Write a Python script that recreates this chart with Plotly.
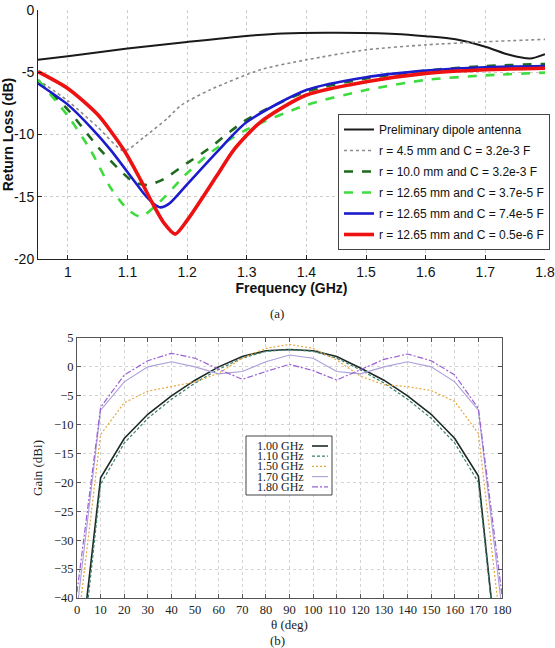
import plotly.graph_objects as go

# ---------------- (a) Return loss vs frequency ----------------
names_a = [
    "Preliminary dipole antenna",
    "r = 4.5 mm and C = 3.2e-3 F",
    "r = 10.0 mm and C = 3.2e-3 F",
    "r = 12.65 mm and C = 3.7e-5 F",
    "r = 12.65 mm and C = 7.4e-5 F",
    "r = 12.65 mm and C = 0.5e-6 F",
]
f_dipole = [0.95, 1.0, 1.1, 1.2, 1.3, 1.36, 1.45, 1.55, 1.6, 1.65, 1.7, 1.74, 1.775, 1.8]
rl_dipole = [-4.0, -3.72, -3.1, -2.57, -2.08, -1.88, -1.83, -1.92, -2.1, -2.35, -2.95, -3.6, -3.9, -3.55]

f_r45 = [0.95, 1.0, 1.05, 1.094, 1.128, 1.167, 1.19, 1.239, 1.323, 1.4, 1.5, 1.6, 1.7, 1.8]
rl_r45 = [-5.6, -7.3, -9.4, -11.3, -10.2, -8.7, -7.65, -6.4, -4.8, -4.0, -3.2, -2.8, -2.55, -2.36]

f_r10 = [0.95, 1.0, 1.055, 1.11, 1.134, 1.16, 1.2, 1.233, 1.3, 1.4, 1.5, 1.6, 1.7, 1.8]
rl_r10 = [-5.7, -8.0, -11.25, -13.8, -14.06, -13.6, -12.3, -11.25, -8.8, -6.55, -5.5, -4.87, -4.5, -4.34]

f_c37 = [0.95, 1.0, 1.038, 1.072, 1.1, 1.122, 1.15, 1.2, 1.245, 1.3, 1.4, 1.5, 1.6, 1.7, 1.8]
rl_c37 = [-5.6, -8.5, -11.25, -14.3, -16.0, -16.6, -15.6, -13.1, -11.25, -9.6, -7.63, -6.43, -5.62, -5.25, -5.03]

f_c74 = [0.95, 1.0, 1.04, 1.072, 1.11, 1.13, 1.145, 1.155, 1.17, 1.2, 1.253, 1.3, 1.4, 1.5, 1.6, 1.7, 1.8]
rl_c74 = [-5.9, -7.6, -9.5, -11.25, -13.65, -14.9, -15.6, -15.85, -15.55, -14.0, -11.25, -9.0, -6.43, -5.4, -4.87, -4.6, -4.5]

f_c05 = [0.95, 1.0, 1.05, 1.094, 1.122, 1.139, 1.161, 1.18, 1.2, 1.25, 1.278, 1.323, 1.4, 1.5, 1.6, 1.7, 1.8]
rl_c05 = [-4.95, -6.3, -8.4, -11.25, -13.65, -15.26, -17.1, -18.0, -16.9, -13.3, -11.25, -9.0, -6.83, -5.76, -5.09, -4.8, -4.68]

x_ticks_a = [1.0, 1.1, 1.2, 1.3, 1.4, 1.5, 1.6, 1.7, 1.8]
x_labels_a = ["1", "1.1", "1.2", "1.3", "1.4", "1.5", "1.6", "1.7", "1.8"]
y_ticks_a = [0, -5, -10, -15, -20]
y_labels_a = ["0", "-5", "-10", "-15", "-20"]

# ---------------- (b) Gain vs theta ----------------
theta = [0, 10, 20, 30, 40, 50, 60, 70, 80, 90, 100, 110, 120, 130, 140, 150, 160, 170, 180]
g_100 = [-55, -19.2, -12.4, -8.2, -5.0, -2.3, 0.0, 1.8, 2.8, 3.0, 2.8, 1.8, -0.2, -2.3, -5.0, -8.2, -12.4, -18.9, -58]
g_110 = [-58, -20.3, -13.2, -8.9, -5.6, -2.8, -0.4, 1.5, 2.7, 3.0, 2.7, 1.5, -0.5, -2.8, -5.6, -8.9, -13.2, -20.0, -58]
g_150 = [-46, -11.7, -6.2, -4.2, -3.4, -2.6, -1.1, 1.5, 3.2, 3.9, 3.2, 1.2, -1.6, -3.1, -3.4, -4.1, -6.0, -11.5, -47]
g_170 = [-42, -7.5, -2.6, 0.0, 0.9, 0.0, -1.2, -0.8, 0.9, 2.05, 1.5, -0.8, -1.2, 0.0, 0.9, 0.0, -2.6, -7.5, -42]
g_180 = [-39, -7.0, -1.4, 1.07, 2.35, 1.5, -0.4, -2.15, -0.8, 0.44, -0.65, -2.27, -0.5, 1.3, 2.23, 1.07, -1.4, -7.2, -39.5]
names_b = ["1.00 GHz", "1.10 GHz", "1.50 GHz", "1.70 GHz", "1.80 GHz"]

x_ticks_b = list(range(0, 181, 10))
y_ticks_b = list(range(5, -41, -5))

# ---------------- styles ----------------
styles_a = [
    dict(color="#1a1a1a", width=2, dash="solid"),
    dict(color="#8a8a8a", width=1.6, dash="dot"),
    dict(color="#1d6a1d", width=2.6, dash="dash"),
    dict(color="#3fdc3f", width=2.6, dash="dash"),
    dict(color="#1c1ccc", width=2.6, dash="solid"),
    dict(color="#ee1111", width=3.6, dash="solid"),
]
styles_b = [
    dict(color="#1e2a24", width=1.6, dash="solid"),
    dict(color="#3a7f6e", width=1.2, dash="3px,2px"),
    dict(color="#e6a73c", width=1.2, dash="2px,2px"),
    dict(color="#aa9fd8", width=1.1, dash="solid"),
    dict(color="#9a5fd2", width=1.2, dash="6px,2px,2px,2px"),
]

fig = go.Figure()

series_a = [(f_dipole, rl_dipole), (f_r45, rl_r45), (f_r10, rl_r10),
            (f_c37, rl_c37), (f_c74, rl_c74), (f_c05, rl_c05)]
for i, ((xs, ys), nm, st) in enumerate(zip(series_a, names_a, styles_a)):
    fig.add_trace(go.Scatter(x=xs, y=ys, name=nm, mode="lines",
                             line=dict(shape="spline", smoothing=0.7, **st),
                             legendgroup=f"g{i}", xaxis="x", yaxis="y"))

series_b = [g_100, g_110, g_150, g_170, g_180]
for ys, nm, st in zip(series_b, names_b, styles_b):
    fig.add_trace(go.Scatter(x=theta, y=ys, name=nm, mode="lines", line=st,
                             showlegend=False, xaxis="x2", yaxis="y2"))

W, H = 555, 648
def px(x):
    return x / W
def py(y):
    return 1 - y / H

sans = "Liberation Sans, Arial, sans-serif"
serif = "Liberation Serif, Times New Roman, serif"

axis_common_a = dict(showline=True, linecolor="#222", linewidth=1, mirror=False,
                     ticks="inside", ticklen=4, tickcolor="#222",
                     showgrid=True, gridcolor="#cccccc", griddash="dot", gridwidth=1,
                     zeroline=False, automargin=False,
                     tickfont=dict(family=sans, size=14, color="#111"))
axis_common_b = dict(showline=True, linecolor="#555", linewidth=1, mirror="ticks",
                     ticks="inside", ticklen=4, tickcolor="#555",
                     showgrid=True, gridcolor="#d4d4d4", griddash="dot", gridwidth=1,
                     zeroline=False, automargin=False,
                     tickfont=dict(family=serif, size=12.5, color="#222"))

fig.update_layout(
    width=W, height=H,
    margin=dict(l=0, r=0, t=0, b=0, pad=0, autoexpand=False),
    paper_bgcolor="white", plot_bgcolor="white",
    xaxis=dict(domain=[px(38), px(545)], range=[0.95, 1.8],
               tickvals=x_ticks_a, ticktext=x_labels_a, anchor="y",
               title=dict(text="<b>Frequency (GHz)</b>", font=dict(family=sans, size=14, color="#111"),
                          standoff=2), **axis_common_a),
    yaxis=dict(domain=[py(259), py(10)], range=[-20, 0],
               tickvals=y_ticks_a, ticktext=y_labels_a, anchor="x",
               title=dict(text="<b>Return Loss (dB)</b>", font=dict(family=sans, size=14, color="#111"),
                          standoff=2), **axis_common_a),
    xaxis2=dict(domain=[px(77), px(502)], range=[0, 180],
                tickvals=x_ticks_b, anchor="y2",
                title=dict(text="θ (deg)", font=dict(family=serif, size=13, color="#222"),
                           standoff=1), **axis_common_b),
    yaxis2=dict(domain=[py(598), py(338)], range=[-40, 5],
                tickvals=y_ticks_b, anchor="x2",
                title=dict(text="Gain (dBi)", font=dict(family=serif, size=13, color="#222"),
                           standoff=8), **axis_common_b),
    showlegend=True,
    legend=dict(x=px(338), y=py(114), xanchor="left", yanchor="top",
                bgcolor="white", bordercolor="#444", borderwidth=1,
                font=dict(family=sans, size=12, color="#111"),
                tracegroupgap=2, itemwidth=30),
)

annotations = [
    dict(text="(a)", x=px(277), y=py(313), xref="paper", yref="paper",
         xanchor="center", yanchor="middle",
         showarrow=False, font=dict(family=serif, size=13, color="#222")),
    dict(text="(b)", x=px(277), y=py(640), xref="paper", yref="paper",
         xanchor="center", yanchor="middle",
         showarrow=False, font=dict(family=serif, size=13, color="#222")),
]

# manual legend for panel (b): text left, sample line right
shapes = [dict(type="rect", xref="paper", yref="paper",
               x0=px(246), x1=px(332), y0=py(495), y1=py(436),
               line=dict(color="#444", width=1), fillcolor="white", layer="above")]
row_y = [446, 456.2, 466.4, 476.6, 486.8]
for nm, st, yy in zip(names_b, styles_b, row_y):
    annotations.append(dict(text=nm, x=px(255), y=py(yy), xref="paper", yref="paper",
                            xanchor="left", yanchor="middle", showarrow=False,
                            font=dict(family=serif, size=12, color="#222")))
    shapes.append(dict(type="line", xref="paper", yref="paper",
                       x0=px(312), x1=px(328), y0=py(yy), y1=py(yy),
                       line=dict(color=st["color"], width=st["width"], dash=st["dash"]),
                       layer="above"))

fig.update_layout(annotations=annotations, shapes=shapes)
fig.write_html("out.html")
